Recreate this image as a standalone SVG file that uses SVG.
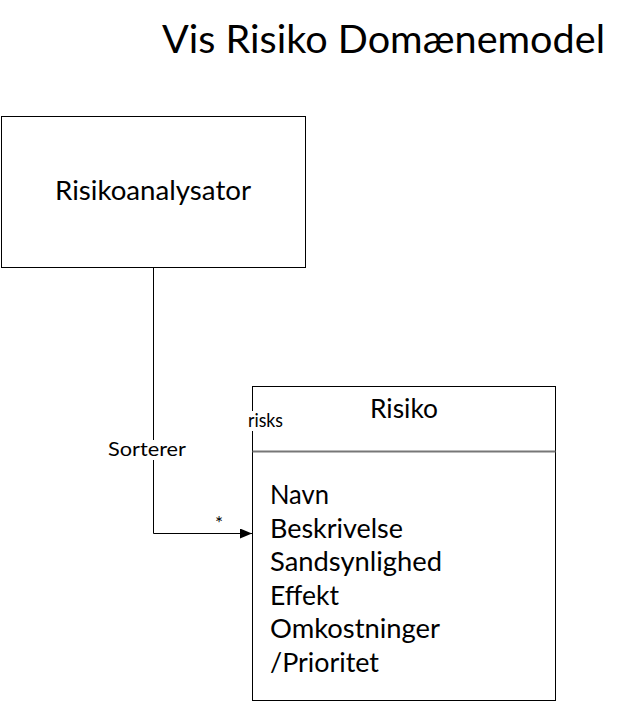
<svg xmlns="http://www.w3.org/2000/svg" width="629" height="702" viewBox="0 0 629 702">
<defs>
<style>
text{font-family:Lato,"Open Sans","Liberation Sans",sans-serif;fill:#000}
.box{fill:#fff;stroke:#000;stroke-width:1}
.conn{fill:none;stroke:#000;stroke-width:1}
.big{font-size:26.5px}
.small{font-size:19px}
</style>
<marker id="arr" markerWidth="12" markerHeight="10" refX="12" refY="5" orient="auto" markerUnits="userSpaceOnUse">
<path d="M0,0 L12,5 L0,10 Z" fill="#000"/>
</marker>
</defs>
<rect width="629" height="702" fill="#fff"/>
<text x="162" y="53" font-size="38" textLength="443" lengthAdjust="spacingAndGlyphs">Vis Risiko Domænemodel</text>
<g id="risikoanalysator">
<rect class="box" x="1.5" y="116.5" width="304" height="151"/>
<text class="big" x="55" y="200" textLength="196" lengthAdjust="spacingAndGlyphs">Risikoanalysator</text>
</g>
<g id="risiko">
<rect class="box" x="252.5" y="386.5" width="303" height="314"/>
<line x1="252.5" y1="451.5" x2="555.5" y2="451.5" stroke="#777" stroke-width="2"/>
<text class="big" x="370" y="418" textLength="68" lengthAdjust="spacingAndGlyphs">Risiko</text>
<text class="big" x="270" y="504" textLength="59" lengthAdjust="spacingAndGlyphs">Navn</text>
<text class="big" x="270" y="537.5" textLength="133" lengthAdjust="spacingAndGlyphs">Beskrivelse</text>
<text class="big" x="270" y="571" textLength="172" lengthAdjust="spacingAndGlyphs">Sandsynlighed</text>
<text class="big" x="270" y="604.5" textLength="69" lengthAdjust="spacingAndGlyphs">Effekt</text>
<text class="big" x="270" y="638" textLength="170" lengthAdjust="spacingAndGlyphs">Omkostninger</text>
<text class="big" x="270" y="671.5" textLength="109" lengthAdjust="spacingAndGlyphs">/Prioritet</text>
</g>
<g id="connectors">
<path class="conn" d="M153.5,268 V533.5 H252" marker-end="url(#arr)"/>
<rect x="106" y="440" width="82" height="20" fill="#fff"/>
<text class="small" x="108" y="456" textLength="78" lengthAdjust="spacingAndGlyphs">Sorterer</text>
<rect x="248" y="411" width="36" height="20" fill="#fff"/>
<text class="small" x="248" y="427" textLength="35" lengthAdjust="spacingAndGlyphs">risks</text>
<text class="small" x="215" y="530">*</text>
</g>
</svg>
